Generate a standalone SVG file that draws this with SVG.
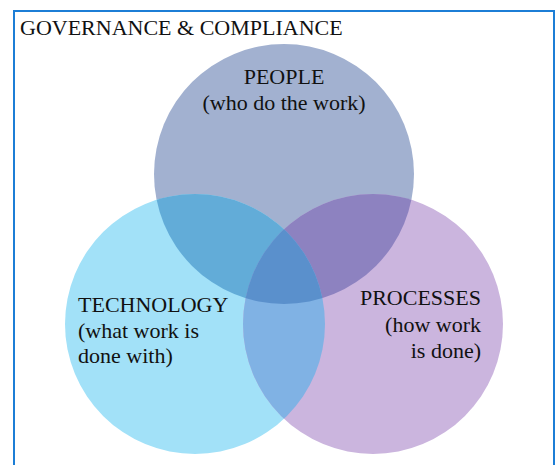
<svg xmlns="http://www.w3.org/2000/svg" width="556" height="465" viewBox="0 0 556 465">
<style>
.t{font-family:"Liberation Serif","Times New Roman",serif;font-size:22px;fill:#111}
</style>
<defs>
<clipPath id="cP"><circle cx="284" cy="174" r="130"/></clipPath>
<clipPath id="cT"><circle cx="195" cy="324" r="130"/></clipPath>
<clipPath id="cR"><circle cx="373" cy="324" r="130"/></clipPath>
</defs>
<rect width="556" height="465" fill="#fff"/>
<rect x="14" y="11" width="540" height="470" fill="none" stroke="#1c7ed6" stroke-width="2"/>
<text class="t" x="20" y="35">GOVERNANCE &amp; COMPLIANCE</text>
<g id="people"><circle cx="284" cy="174" r="130" fill="#a2b1d0"/></g>
<g id="technology"><circle cx="195" cy="324" r="130" fill="#a2e1f8"/></g>
<g id="processes"><circle cx="373" cy="324" r="130" fill="#cbb5de"/></g>
<g id="overlaps">
<circle cx="195" cy="324" r="130" fill="#62acd8" clip-path="url(#cP)"/>
<circle cx="373" cy="324" r="130" fill="#8d82c0" clip-path="url(#cP)"/>
<circle cx="373" cy="324" r="130" fill="#80b2e4" clip-path="url(#cT)"/>
<g clip-path="url(#cP)"><circle cx="373" cy="324" r="130" fill="#5a90cc" clip-path="url(#cT)"/></g>
</g>
<g id="labels">
<text class="t" x="284" y="84" text-anchor="middle">PEOPLE</text>
<text class="t" x="284" y="110" text-anchor="middle">(who do the work)</text>
<text class="t" x="78" y="312">TECHNOLOGY</text>
<text class="t" x="78" y="338">(what work is</text>
<text class="t" x="78" y="363">done with)</text>
<text class="t" x="481" y="305" text-anchor="end">PROCESSES</text>
<text class="t" x="481" y="332" text-anchor="end">(how work</text>
<text class="t" x="481" y="358" text-anchor="end">is done)</text>
</g>
</svg>
